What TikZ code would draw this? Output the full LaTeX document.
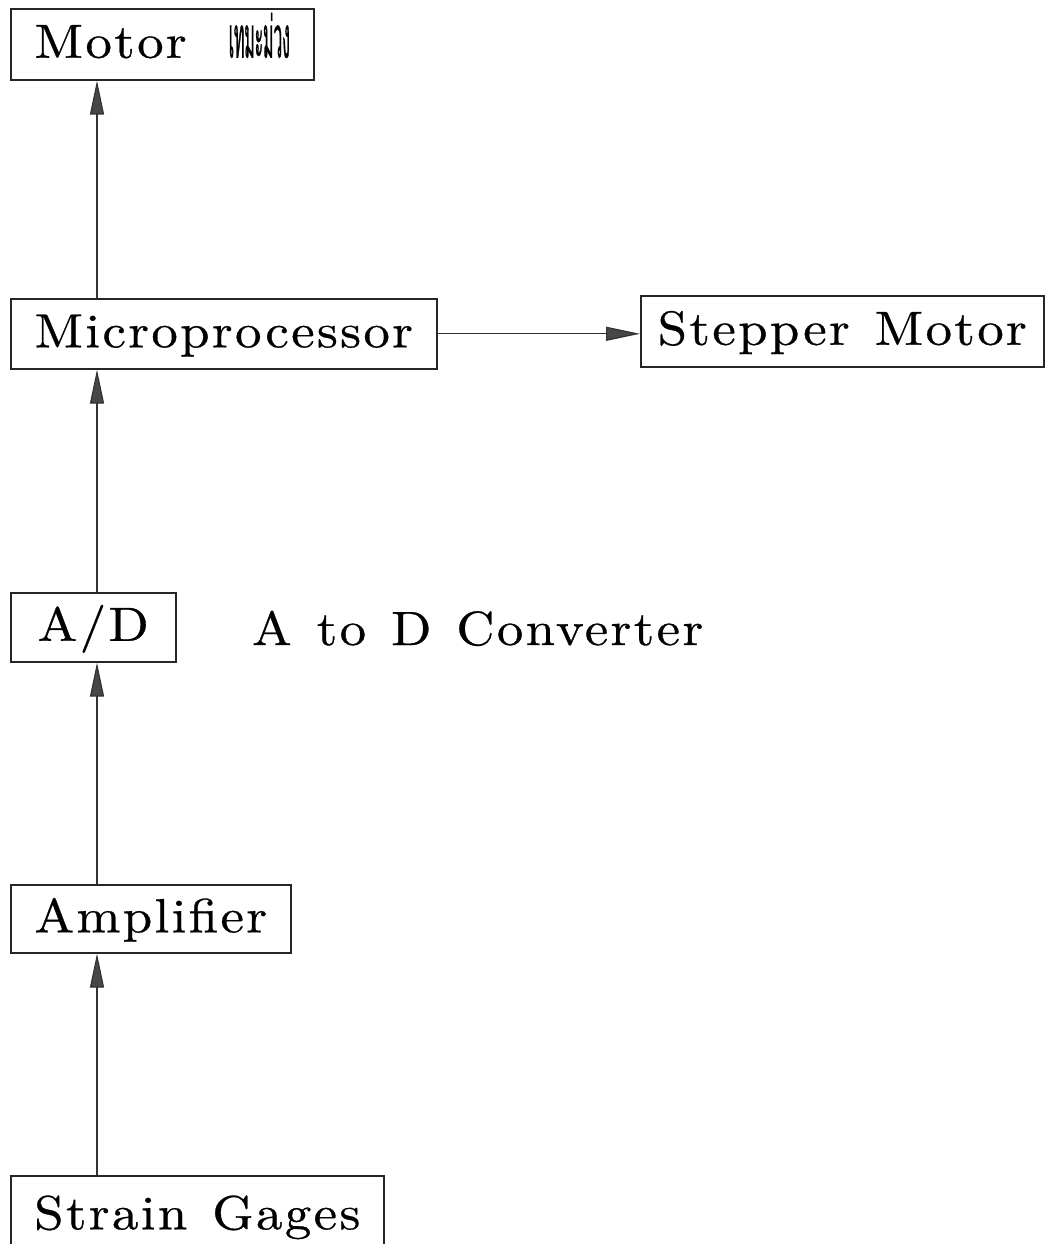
\documentclass[tikz,border=0pt]{standalone}
\usepackage{fontspec}
\setmainfont{lmroman10-regular.otf}[LetterSpace=5,WordSpace=1.25,FakeStretch=1.1,FakeBold=0.6]
\newfontfamily\thaifont[Script=Thai,FakeStretch=0.27,FakeBold=0.5]{Loma}
\usetikzlibrary{arrows.meta}
\begin{document}
\begin{tikzpicture}[x=1pt,y=1pt,
  blk/.style={draw=black!85, line width=1.6pt, anchor=north west, inner sep=0pt,
    font=\fontsize{48}{54}\selectfont, text height=33pt, text depth=6pt},
  arr/.style={draw=black!80, line width=1.2pt, -{Triangle[length=34pt,width=14pt,fill=black!72]}}
]
\useasboundingbox (0,0) rectangle (1045,-1244);
\node[blk, minimum width=303, minimum height=71] (motor) at (10,-8)
  {Motor\hspace{42pt}{\thaifont\fontsize{58}{60}\selectfont เทมะม่วง}};
\node[blk, minimum width=426, minimum height=70] (micro) at (10,-298) {Microprocessor};
\node[blk, minimum width=403, minimum height=71] (step) at (640,-295) {Stepper Motor};
\node[blk, minimum width=165, minimum height=69] (ad) at (10,-592) {A/D};
\node[font=\fontsize{48}{54}\selectfont, anchor=base west, inner sep=0pt] (conv) at (252,-645) {A to D Converter};
\node[blk, minimum width=280, minimum height=68] (amp) at (10,-884) {Amplifier};
\node[blk, minimum width=373, minimum height=80] (sg) at (10,-1175) {Strain Gages};
\draw[arr] ([xshift=87pt]sg.north west) -- ([xshift=87pt]amp.south west);
\draw[arr] ([xshift=87pt]amp.north west) -- ([xshift=87pt]ad.south west);
\draw[arr] ([xshift=87pt]ad.north west) -- ([xshift=87pt]micro.south west);
\draw[arr] ([xshift=87pt]micro.north west) -- ([xshift=87pt]motor.south west);
\draw[arr] (micro.east) -- (step.west |- micro.east);
\end{tikzpicture}
\end{document}
